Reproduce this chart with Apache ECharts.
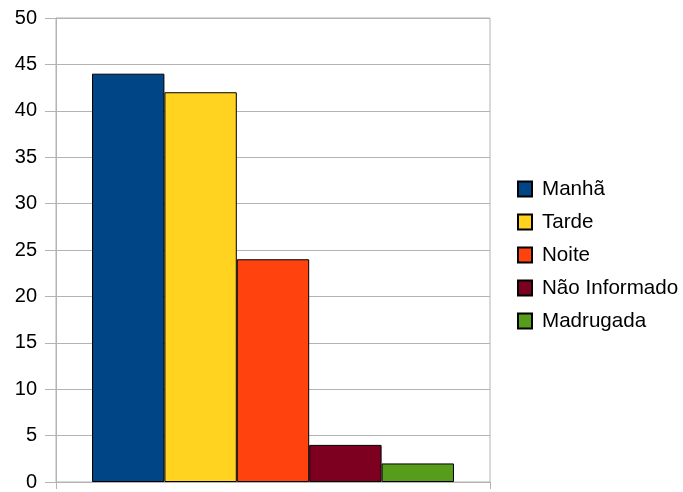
<!DOCTYPE html>
<html>
<head>
<meta charset="utf-8">
<script src="https://cdn.jsdelivr.net/npm/echarts@6/dist/echarts.min.js"></script>
<style>html,body{margin:0;padding:0;background:#fff}#c{width:683px;height:492px}</style>
</head>
<body>
<div id="c"></div>
<script>
const categories = [''];
const seriesNames = ['Manhã', 'Tarde', 'Noite', 'Não Informado', 'Madrugada'];
const seriesValues = [44, 42, 24, 4, 2];
const seriesColors = ['#004586', '#ffd320', '#ff420e', '#7e0021', '#579d1c'];
const yTicks = [0, 5, 10, 15, 20, 25, 30, 35, 40, 45, 50];

const chart = echarts.init(document.getElementById('c'), null, {renderer: 'canvas'});
const gridColor = '#b3b3b3';
chart.setOption({
  animation: false,
  grid: {left: 56, right: 193, top: 18, bottom: 7, show: true, borderColor: gridColor, borderWidth: 1},
  legend: {
    orient: 'vertical', left: 512, top: 172,
    itemWidth: 14, itemHeight: 15, itemGap: 9,
    icon: 'rect',
    textStyle: {fontFamily: 'Liberation Sans', fontSize: 20.6, lineHeight: 20, color: '#000', padding: [4, 0, 0, 5]},
    data: seriesNames
  },
  xAxis: {
    type: 'category', data: categories,
    axisLine: {lineStyle: {color: gridColor}},
    axisTick: {show: true, length: 7, lineStyle: {color: gridColor}},
    axisLabel: {show: false}
  },
  yAxis: {
    type: 'value', min: yTicks[0], max: yTicks[yTicks.length - 1], interval: 5,
    axisLine: {show: true, lineStyle: {color: gridColor}},
    axisTick: {show: true, length: 11, lineStyle: {color: gridColor}},
    splitLine: {lineStyle: {color: gridColor}},
    axisLabel: {fontFamily: 'Liberation Sans', fontSize: 20, color: '#000', margin: 19}
  },
  series: seriesNames.map((n, i) => ({
    name: n, type: 'bar',
    data: [seriesValues[i]],
    barGap: '0%', barCategoryGap: '16.6%',
    itemStyle: {color: seriesColors[i], borderColor: '#000', borderWidth: 1}
  }))
});
</script>
</body>
</html>
